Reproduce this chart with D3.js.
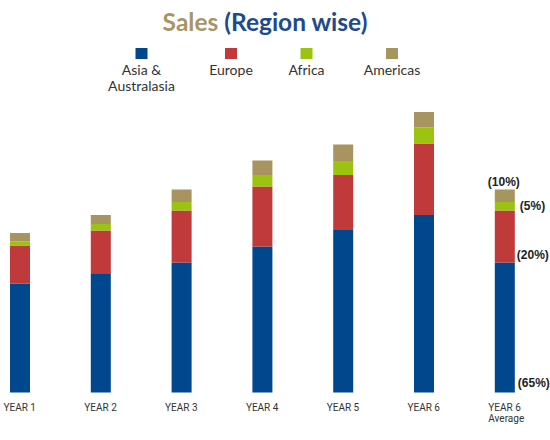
<!DOCTYPE html>
<html>
<head>
<meta charset="utf-8">
<script src="https://cdn.jsdelivr.net/npm/d3@7"></script>
<style>
  html, body { margin: 0; padding: 0; background: #fff; }
  svg { display: block; }
</style>
</head>
<body>
<svg id="chart" width="550" height="440"></svg>
<script>
const categories = ["YEAR 1", "YEAR 2", "YEAR 3", "YEAR 4", "YEAR 5", "YEAR 6", "YEAR 6|Average"];
const seriesNames = ["Asia & Australasia", "Europe", "Africa", "Americas"];
const asia     = [109, 118.5, 130, 146, 162.5, 177.5, 130];
const europe   = [38, 43.5, 52, 60, 55, 71.5, 52];
const africa   = [4, 6.5, 8.5, 11.5, 14, 16, 8.5];
const americas = [8.5, 9, 12.5, 14.5, 16.5, 15.5, 12.5];
const shareLabels = ["(65%)", "(20%)", "(5%)", "(10%)"];
const colors = ["#00478e", "#c0393b", "#9bc30f", "#a8945f"];

const rows = categories.map((c, i) => ({
  cat: c, s0: asia[i], s1: europe[i], s2: africa[i], s3: americas[i]
}));
const keys = ["s0", "s1", "s2", "s3"];
const stacked = d3.stack().keys(keys)(rows);

const svg = d3.select("#chart");
const x = d3.scaleBand().domain(categories).range([10, 514.8]).paddingInner(0.7525).paddingOuter(0);
const y = d3.scaleLinear().domain([0, 300]).range([392.5, 92.5]);

// Title
const title = svg.append("text")
  .attr("x", 265).attr("y", 31)
  .attr("text-anchor", "middle")
  .attr("font-family", "Lato, 'Open Sans', sans-serif")
  .attr("font-weight", "bold")
  .attr("font-size", 24.5);
title.append("tspan").attr("fill", "#a99562").text("Sales ");
title.append("tspan").attr("fill", "#1d4a8c").text("(Region wise)");

// Legend
const legendX = [141.5, 231, 306.5, 392];
const legendLines = [["Asia &", "Australasia"], ["Europe"], ["Africa"], ["Americas"]];
seriesNames.forEach((n, i) => {
  const g = svg.append("g");
  g.append("rect")
    .attr("x", legendX[i] - 6).attr("y", 48)
    .attr("width", 12).attr("height", 11)
    .attr("fill", colors[i]);
  legendLines[i].forEach((ln, j) => {
    g.append("text")
      .attr("x", legendX[i]).attr("y", 75 + j * 15.5)
      .attr("text-anchor", "middle")
      .attr("font-family", "Lato, 'Open Sans', sans-serif")
      .attr("font-size", 14)
      .attr("fill", "#333")
      .text(ln);
  });
});

// Bars
svg.append("g").selectAll("g")
  .data(stacked)
  .join("g")
  .attr("fill", (d, i) => colors[i])
  .selectAll("rect")
  .data(d => d)
  .join("rect")
  .attr("x", d => x(d.data.cat))
  .attr("width", x.bandwidth())
  .attr("y", d => y(d[1]))
  .attr("height", d => y(d[0]) - y(d[1]));

// X axis labels
const xAxis = d3.axisBottom(x).tickSize(0).tickFormat("");
const axisG = svg.append("g").attr("transform", "translate(0,392.5)").call(xAxis);
axisG.select(".domain").remove();
axisG.selectAll(".tick").each(function(d) {
  const parts = d.split("|");
  const t = d3.select(this).append("text")
    .attr("x", -16.5).attr("y", 18)
    .attr("text-anchor", "start")
    .attr("font-family", "Roboto, 'Liberation Sans', Arial, sans-serif")
    .attr("font-size", 10)
    .attr("fill", "#333");
  parts.forEach((p, j) => {
    t.append("tspan").attr("x", -16.5).attr("dy", j === 0 ? 0 : 11).text(p);
  });
});

// Share labels on the average bar
const last = categories.length - 1;
const cxLast = x(categories[last]) + x.bandwidth() / 2;
const xr = x(categories[last]) + x.bandwidth();
const labelPos = [
  { x: xr + 3, y: y(stacked[0][last][0]) - 5.5, anchor: "start" },
  { x: xr + 2, y: y(stacked[1][last][0]) - 4, anchor: "start" },
  { x: xr + 5, y: y(stacked[2][last][1]) + 8, anchor: "start" },
  { x: cxLast - 1, y: y(stacked[3][last][1]) - 3.5, anchor: "middle" }
];
shareLabels.forEach((s, i) => {
  svg.append("text")
    .attr("x", labelPos[i].x).attr("y", labelPos[i].y)
    .attr("text-anchor", labelPos[i].anchor)
    .attr("font-family", "'Liberation Sans', Arial, sans-serif")
    .attr("font-weight", "bold")
    .attr("font-size", 12)
    .attr("fill", "#222")
    .text(s);
});
</script>
</body>
</html>
